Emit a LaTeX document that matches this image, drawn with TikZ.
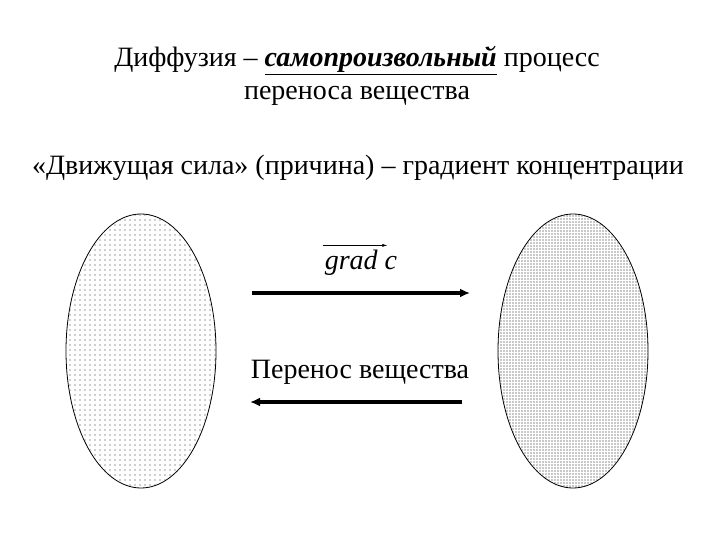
\documentclass[tikz,border=0pt]{standalone}
\usepackage{fontspec}
\setmainfont{Liberation Serif}
\usetikzlibrary{arrows.meta,patterns.meta}
\begin{document}
\begin{tikzpicture}[x=1pt,y=-1pt,
  txt/.style={font=\fontsize{28}{32}\selectfont, inner sep=0pt, anchor=base},
  blob/.style={draw=black, line width=0.8pt, fill=white},
  bigarrow/.style={line width=3.5pt, -{Latex[length=10pt,width=9pt]}}]
\useasboundingbox (0,0) rectangle (720,540);
\node[txt] (t1) at (357,67) {Диффузия – \underline{\textbf{\textit{самопроизвольный}}} процесс};
\node[txt] (t2) at (357,100) {переноса вещества};
\node[txt] (t3) at (358,175) {«Движущая сила» (причина) – градиент концентрации};
% ellipses
\path[blob] (141,351) ellipse [x radius=75, y radius=137];
\path[pattern={Dots[distance=5pt,radius=0.6pt]},pattern color=black!80] (141,351) ellipse [x radius=75, y radius=137];
\node[minimum width=150pt, minimum height=274pt, inner sep=0pt] (L) at (141,351) {};
\path[blob] (573,351) ellipse [x radius=75, y radius=137];
\path[pattern={Dots[distance=3pt,radius=0.65pt]},pattern color=black!90] (573,351) ellipse [x radius=75, y radius=137];
\node[minimum width=150pt, minimum height=274pt, inner sep=0pt] (R) at (573,351) {};
% labels
\node[txt, font=\fontsize{28}{32}\selectfont\itshape] (g) at (361,269) {grad c};
\draw[line width=0.6pt, -{Latex[length=5pt,width=3pt]}] ([yshift=4pt,xshift=-2pt]g.north west) -- ([yshift=4pt,xshift=-10pt]g.north east);
\node[txt] (p) at (360,378) {Перенос вещества};
% arrows
\coordinate (a1s) at (252,293);
\coordinate (a1e) at (470,293);
\coordinate (a2s) at (462,402);
\coordinate (a2e) at (250,402);
\draw[bigarrow] (a1s) -- (a1e);
\draw[bigarrow] (a2s) -- (a2e);
\end{tikzpicture}
\end{document}
